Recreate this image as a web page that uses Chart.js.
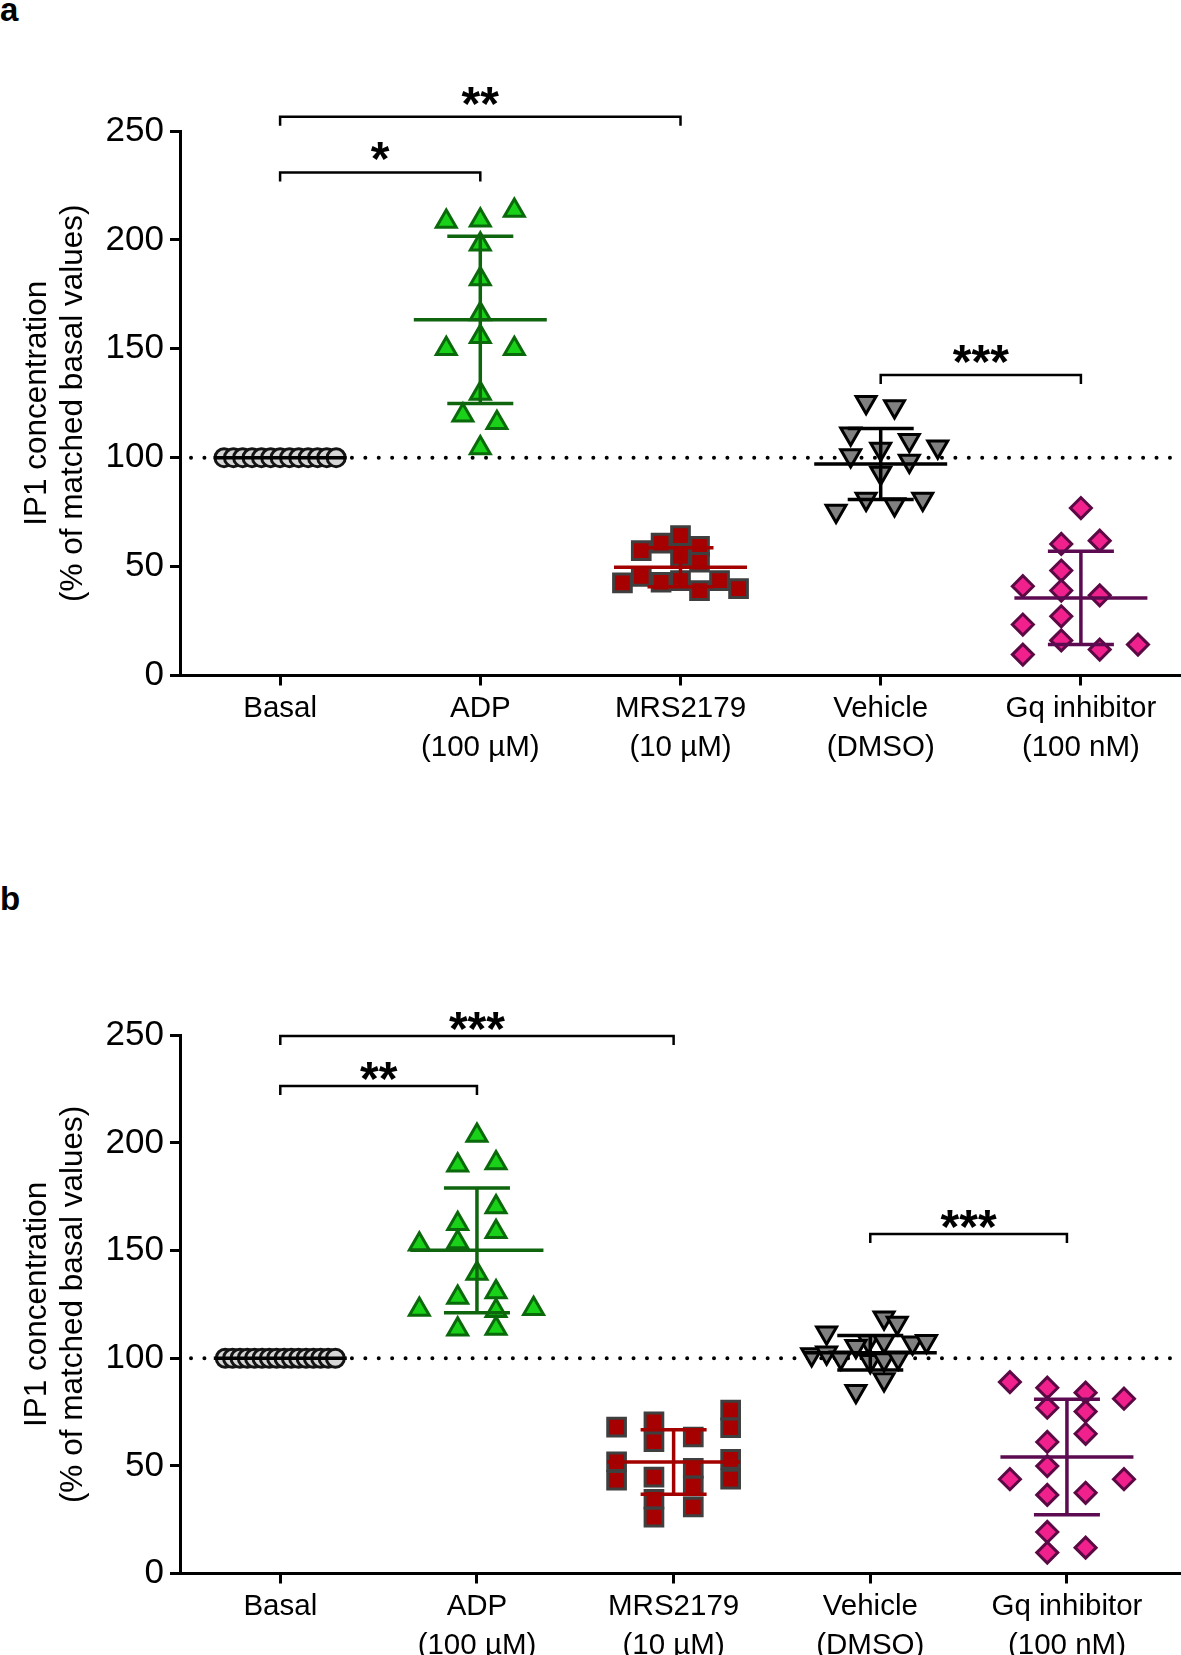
<!DOCTYPE html>
<html><head><meta charset="utf-8">
<script src="https://cdn.jsdelivr.net/npm/chart.js@4.4.1/dist/chart.umd.min.js"></script>
<style>
html,body{margin:0;padding:0;background:#fff;}
body{width:1181px;height:1655px;position:relative;overflow:hidden;font-family:"Liberation Sans",Arial,sans-serif;}
canvas{position:absolute;left:0;}
#ca{top:0}
#cb{top:830px}
.panel{position:absolute;left:0;font-weight:bold;font-size:33px;line-height:33px;color:#000;}
</style></head><body>
<div class="panel" style="top:-7px">a</div>
<div class="panel" style="top:882px">b</div>
<canvas id="ca" width="1181" height="830"></canvas>
<canvas id="cb" width="1181" height="825"></canvas>
<script>
// ---------- categories / ticks ----------
const categoriesLine1 = ['Basal', 'ADP', 'MRS2179', 'Vehicle', 'Gq inhibitor'];
const categoriesLine2 = ['', '(100 µM)', '(10 µM)', '(DMSO)', '(100 nM)'];
const yMin = 0, yMax = 250, yStep = 50;
const referenceLevel = 100;
const yTitle = ['IP1 concentration', '(% of matched basal values)'];

// ---------- panel a ----------
const aBasal = [100,100,100,100,100,100,100,100,100,100,100,100,100];
const aBasalJitter = [-0.28,-0.233,-0.187,-0.14,-0.093,-0.047,0,0.047,0.093,0.14,0.187,0.233,0.28];
const aADP = [208.5, 209, 213.5, 198, 182, 166, 155.5, 150, 150, 129.5, 119.5, 116, 104.5];
const aADPJitter = [-0.17, 0, 0.17, 0, 0, 0, 0, -0.17, 0.17, 0, -0.087, 0.083, 0];
const aMRS = [57.3, 60.8, 64.2, 59.3, 54.7, 52, 42.5, 45.5, 42.8, 43.6, 39, 43.6, 39.9];
const aMRSJitter = [-0.196, -0.097, 0, 0.095, 0, 0.095, -0.29, -0.196, -0.097, 0, 0.095, 0.195, 0.29];
const aVeh = [125.5, 123.5, 111, 104, 108, 105, 101, 98.5, 93, 81, 78.5, 81, 75.5];
const aVehJitter = [-0.073, 0.069, -0.15, 0, 0.143, 0.285, -0.15, 0.143, 0, -0.073, 0.069, 0.21, -0.223];
const aGq = [76.9, 60.4, 61.9, 48.2, 41, 39, 36.8, 27.2, 23.4, 16.1, 11.9, 14.2, 9.6];
const aGqJitter = [0, -0.098, 0.094, -0.098, -0.29, -0.098, 0.094, -0.098, -0.29, -0.098, 0.094, 0.285, -0.29];
const aMean = [100, 163.3, 49.7, 97.1, 35.6];
const aSD = [0, 38.4, 9, 16.3, 21.4];
const aBracketFrom = [0, 0, 3];
const aBracketTo = [1, 2, 4];
const aBracketLevel = [231, 256.5, 138];
const aBracketLabel = ['*', '**', '***'];

// ---------- panel b ----------
const bBasal = [100,100,100,100,100,100,100,100,100,100,100,100,100,100,100,100];
const bBasalJitter = [-0.28,-0.243,-0.205,-0.168,-0.131,-0.093,-0.056,-0.019,0.019,0.056,0.093,0.131,0.168,0.205,0.243,0.28];
const bADP = [203.5, 189.6, 190.7, 170.3, 162.5, 158.7, 154, 152.9, 139.3, 128.2, 130.8, 122.6, 122, 123, 113.4, 113.8];
const bADPJitter = [0, -0.098, 0.097, 0.097, -0.098, 0.097, -0.098, -0.293, 0, -0.098, 0.097, -0.293, 0.097, 0.288, -0.098, 0.097];
const bMRS = [68, 70.4, 61.2, 63.4, 75.9, 67.7, 51.9, 43.3, 44.8, 48.9, 40.6, 53, 43.8, 34.5, 26.2, 30.9];
const bMRSJitter = [-0.29, -0.1, -0.1, 0.1, 0.29, 0.29, -0.29, -0.29, -0.1, 0.1, 0.1, 0.29, 0.29, -0.1, -0.1, 0.1];
const bVeh = [118.8, 116.4, 111.8, 107.9, 107.9, 107.2, 107.9, 105.6, 101.7, 102.5, 100.2, 98.6, 99.4, 100.2, 90.1, 84.7];
const bVehJitter = [0.07, 0.137, -0.222, -0.01, 0.07, 0.215, 0.286, -0.073, -0.298, -0.222, -0.15, 0, 0.07, 0.142, 0.07, -0.073];
const bGq = [88.9, 86.3, 84, 81.2, 77, 75.2, 64.9, 61.1, 49.9, 43.8, 43.8, 36.5, 37.5, 19.3, 9.7, 12];
const bGqJitter = [-0.29, -0.1, 0.095, 0.29, -0.1, 0.095, 0.095, -0.1, -0.1, -0.29, 0.29, -0.1, 0.095, -0.1, -0.1, 0.095];
const bMean = [100, 150.1, 51.8, 102.5, 54.1];
const bSD = [0, 29, 15, 8, 26.8];
const bBracketFrom = [0, 0, 3];
const bBracketTo = [1, 2, 4];
const bBracketLevel = [226.4, 249.7, 157.7];
const bBracketLabel = ['**', '***', '***'];

// ---------- styles ----------
const FONT = "'Liberation Sans', Arial, Helvetica, sans-serif";
Chart.defaults.font.family = FONT;
Chart.defaults.color = '#000';
const groupStyles = [
  {pointStyle:'circle',   radius:9,    rotation:0,   fill:'#d6d6d6', border:'#141414', bar:'#000000'},
  {pointStyle:'triangle', radius:11.5, rotation:0,   fill:'#19d119', border:'#0a690a', bar:'#0e650e'},
  {pointStyle:'rect',     radius:12.5, rotation:0,   fill:'#a60000', border:'#3f3f3f', bar:'#a30000'},
  {pointStyle:'triangle', radius:11.5, rotation:180, fill:'#808080', border:'#000000', bar:'#000000'},
  {pointStyle:'rectRot',  radius:10.5, rotation:0,   fill:'#f0218d', border:'#5b0945', bar:'#5c0b50'}
];

function buildChart(id, p) {
  const datasets = p.groups.map((vals, g) => {
    const st = groupStyles[g];
    return {
      label: categoriesLine1[g],
      data: vals.map((v, i) => ({x: g + p.jitters[g][i], y: v})),
      showLine: false,
      pointStyle: st.pointStyle,
      pointRadius: st.radius,
      pointHoverRadius: st.radius,
      pointRotation: st.rotation,
      pointBackgroundColor: st.fill,
      pointBorderColor: st.border,
      pointBorderWidth: 3,
      pointHoverBorderWidth: 3,
      clip: false
    };
  });

  const refLine = {
    id: 'refLine',
    beforeDatasetsDraw(chart) {
      const {ctx, chartArea: ca, scales: {y}} = chart;
      const py = y.getPixelForValue(referenceLevel);
      ctx.save();
      ctx.strokeStyle = '#000';
      ctx.lineWidth = 4;
      ctx.lineCap = 'round';
      ctx.setLineDash([0.01, 13.4]);
      ctx.beginPath();
      ctx.moveTo(ca.left + 11, py);
      ctx.lineTo(ca.right, py);
      ctx.stroke();
      ctx.restore();
    }
  };

  const errorBars = {
    id: 'errorBars',
    afterDatasetsDraw(chart) {
      const {ctx, scales: {x, y}} = chart;
      p.mean.forEach((m, g) => {
        const cx = x.getPixelForValue(g);
        ctx.save();
        ctx.strokeStyle = groupStyles[g].bar;
        ctx.lineWidth = 3.5;
        ctx.beginPath();
        const my = y.getPixelForValue(m);
        ctx.moveTo(cx - 66.5, my); ctx.lineTo(cx + 66.5, my);
        if (p.sd[g] > 0) {
          const t = y.getPixelForValue(m + p.sd[g]);
          const b = y.getPixelForValue(m - p.sd[g]);
          ctx.moveTo(cx, t); ctx.lineTo(cx, b);
          ctx.moveTo(cx - 33, t); ctx.lineTo(cx + 33, t);
          ctx.moveTo(cx - 33, b); ctx.lineTo(cx + 33, b);
        }
        ctx.stroke();
        ctx.restore();
      });
    }
  };

  const brackets = {
    id: 'brackets',
    afterDraw(chart) {
      const {ctx, scales: {x, y}} = chart;
      ctx.save();
      ctx.strokeStyle = '#000';
      ctx.fillStyle = '#000';
      ctx.lineWidth = 2.5;
      const fs = 48;
      ctx.font = 'bold ' + fs + 'px ' + FONT;
      ctx.textAlign = 'center';
      ctx.textBaseline = 'alphabetic';
      p.bFrom.forEach((f, k) => {
        const x1 = x.getPixelForValue(f);
        const x2 = x.getPixelForValue(p.bTo[k]);
        const yy = y.getPixelForValue(p.bLevel[k]);
        ctx.beginPath();
        ctx.moveTo(x1, yy + 9); ctx.lineTo(x1, yy); ctx.lineTo(x2, yy); ctx.lineTo(x2, yy + 9);
        ctx.stroke();
        ctx.fillText(p.bLabel[k], (x1 + x2) / 2, yy - p.starGap + 0.58 * fs);
      });
      ctx.restore();
    }
  };

  const axisGrid = {display: true, drawOnChartArea: false, drawTicks: true, tickLength: 10, lineWidth: 3, color: '#000'};
  const axisBorder = {display: true, width: 3, color: '#000'};

  return new Chart(document.getElementById(id), {
    type: 'scatter',
    data: {datasets},
    plugins: [refLine, errorBars, brackets],
    options: {
      responsive: false,
      devicePixelRatio: 1,
      animation: false,
      events: [],
      layout: {autoPadding: false, padding: {top: p.padTop, bottom: p.padBottom, left: 0, right: 0}},
      plugins: {legend: {display: false}, tooltip: {enabled: false}},
      scales: {
        x: {
          type: 'linear',
          min: p.xMin, max: p.xMax,
          afterBuildTicks: s => { s.ticks = categoriesLine1.map((_, i) => ({value: i})); },
          afterFit: s => { s.height = p.xAxisHeight; s.paddingLeft = 0; s.paddingRight = 0; },
          ticks: {
            autoSkip: false, maxRotation: 0, minRotation: 0, padding: 3.5, color: '#000',
            font: {size: 29.5, lineHeight: 1.32},
            callback: (v) => {
              const i = Math.round(v);
              return categoriesLine2[i] ? [categoriesLine1[i], categoriesLine2[i]] : categoriesLine1[i];
            }
          },
          grid: axisGrid,
          border: axisBorder
        },
        y: {
          min: yMin, max: yMax,
          afterFit: s => { s.width = 180; },
          ticks: {stepSize: yStep, padding: 6, color: '#000', font: {size: 35}},
          grid: axisGrid,
          border: axisBorder,
          title: {
            display: true, text: yTitle, color: '#000',
            font: {size: 31.5, lineHeight: 1.16},
            padding: {top: 19, bottom: 0}
          }
        }
      }
    }
  });
}

buildChart('ca', {
  groups: [aBasal, aADP, aMRS, aVeh, aGq],
  jitters: [aBasalJitter, aADPJitter, aMRSJitter, aVehJitter, aGqJitter],
  mean: aMean, sd: aSD,
  bFrom: aBracketFrom, bTo: aBracketTo, bLevel: aBracketLevel, bLabel: aBracketLabel,
  starGap: 25,
  xMin: -0.5, xMax: 4.5,
  padTop: 131, padBottom: 54.5, xAxisHeight: 100
});

buildChart('cb', {
  groups: [bBasal, bADP, bMRS, bVeh, bGq],
  jitters: [bBasalJitter, bADPJitter, bMRSJitter, bVehJitter, bGqJitter],
  mean: bMean, sd: bSD,
  bFrom: bBracketFrom, bTo: bBracketTo, bLevel: bBracketLevel, bLabel: bBracketLabel,
  starGap: 19,
  xMin: -0.51, xMax: 4.58,
  padTop: 205.3, padBottom: 0, xAxisHeight: 81.5
});
</script>
</body></html>
